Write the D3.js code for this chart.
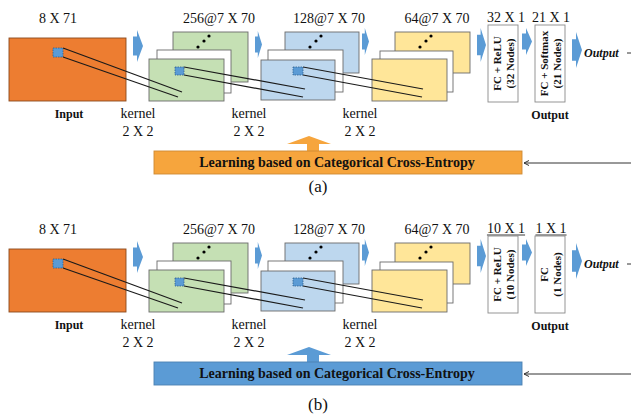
<!DOCTYPE html>
<html lang="en">
<head>
  <meta charset="UTF-8">
  <title>CNN architecture</title>
  <script src="https://d3js.org/d3.v7.min.js"></script>
  <style>
    body { margin: 0; background: #fff; }
    svg text { font-family: "Liberation Serif", "Times New Roman", serif; fill: #111; }
  </style>
</head>
<body>
  <svg id="chart" width="631" height="415"></svg>

  <script>
    // labels
    const sizeLabels = ["8 X 71", "256@7 X 70", "128@7 X 70", "64@7 X 70"];
    const fcSizesA = ["32 X 1", "21 X 1"];
    const fcSizesB = ["10 X 1", "1 X 1"];
    const fcTextA = [["FC + ReLU", "(32 Nodes)"], ["FC + Softmax", "(21 Nodes)"]];
    const fcTextB = [["FC + ReLU", "(10 Nodes)"], ["FC", "(1 Nodes)"]];
    const kernelText = ["kernel", "2 X 2"];
    const lossText = "Learning based on Categorical Cross-Entropy";
    const panelNames = ["(a)", "(b)"];

    // layout
    const sizeX = [58, 219, 329, 437];
    const fcSizeX = [506, 551];
    const kernelX = [138, 249, 360];
    const arrows = [[133, 30, 10, 32], [255, 31, 7, 27], [362, 28, 7, 27], [477, 28, 9, 34], [522, 28, 10, 27], [572, 32, 10, 36]];
    const stacks = [
      {color: "#C5E0B4", back: [173, 32, 75, 50], mid: [157, 50, 74, 43], front: [149, 59, 75, 42]},
      {color: "#BDD7EE", back: [285, 32, 74, 41], mid: [268, 50, 75, 42], front: [261, 60, 74, 40]},
      {color: "#FFE699", back: [395, 32, 75, 41], mid: [380, 51, 73, 41], front: [372, 59, 75, 42]}
    ];
    const kernels = [
      {sq: [53, 48, 10, 9], ends: [[182, 92], [178, 97]]},
      {sq: [175, 67, 9, 8], ends: [[305, 89], [303, 97]]},
      {sq: [293, 67, 10, 8], ends: [[423, 89], [422, 97]]}
    ];
    const fcBoxes = [[488, 25, 30, 77], [535, 25, 30, 77]];

    const svg = d3.select("#chart");

    function rect(g, r, fill, stroke) {
      return g.append("rect")
        .attr("x", r[0]).attr("y", r[1])
        .attr("width", r[2]).attr("height", r[3])
        .attr("fill", fill)
        .attr("stroke", stroke || "#6a6a6a")
        .attr("stroke-width", 0.9);
    }

    function rightArrow(g, a, color) {
      const [x, y, w, h] = a;
      const sx = x + w * 0.4, my = y + h / 2, sh = h * 0.3;
      const pts = [[x, my - sh], [sx, my - sh], [sx, y], [x + w, my], [sx, y + h], [sx, my + sh], [x, my + sh]];
      g.append("path").attr("d", d3.line()(pts) + "Z").attr("fill", color);
    }

    function drawPanel(dy, sizes, fcText, barColor, name, nameY, underline) {
      const g = svg.append("g").attr("transform", `translate(0,${dy})`);

      // size labels
      g.selectAll(".size").data(sizeLabels).join("text")
        .attr("x", (d, i) => sizeX[i]).attr("y", 23)
        .attr("text-anchor", "middle").attr("font-size", 14).text(d => d);
      const fcs = g.selectAll(".fcsize").data(sizes).join("text")
        .attr("x", (d, i) => fcSizeX[i]).attr("y", 22)
        .attr("text-anchor", "middle").attr("font-size", 14).text(d => d);
      if (underline) {
        fcs.each(function() {
          const bb = this.getBBox();
          g.append("line").attr("x1", bb.x).attr("x2", bb.x + bb.width)
            .attr("y1", 24).attr("y2", 24).attr("stroke", "#222").attr("stroke-width", 0.9);
        });
      }

      // input
      rect(g, [9, 38, 117, 63], "#ED7D31", "#8a4a1e");

      stacks.forEach(s => {
        rect(g, s.back, s.color);
        rect(g, s.mid, "#fff");
        rect(g, s.front, s.color);
        [[25, 47], [31, 41], [36, 36]].forEach(p => {
          g.append("circle").attr("cx", s.back[0] + p[0]).attr("cy", p[1]).attr("r", 1.6).attr("fill", "#000");
        });
      });

      arrows.forEach(a => rightArrow(g, a, "#5B9BD5"));

      kernels.forEach(k => {
        const [x, y, w, h] = k.sq;
        g.append("rect").attr("x", x).attr("y", y).attr("width", w).attr("height", h)
          .attr("fill", "#5B9BD5").attr("stroke", "#2F5F8F").attr("stroke-width", 0.8)
          .attr("stroke-dasharray", "1.5,1");
        g.append("line").attr("x1", x + w).attr("y1", y).attr("x2", k.ends[0][0]).attr("y2", k.ends[0][1])
          .attr("stroke", "#1a1a1a").attr("stroke-width", 1.2);
        g.append("line").attr("x1", x + w).attr("y1", y + h).attr("x2", k.ends[1][0]).attr("y2", k.ends[1][1])
          .attr("stroke", "#1a1a1a").attr("stroke-width", 1.2);
      });

      // fully connected boxes
      fcBoxes.forEach((b, i) => {
        rect(g, b, "#fff", "#8a8a8a");
        const cx = b[0] + b[2] / 2, cy = b[1] + b[3] / 2;
        const t = g.append("text").attr("transform", `translate(${cx},${cy}) rotate(-90)`)
          .attr("text-anchor", "middle").attr("font-size", 11).attr("font-weight", "bold");
        t.append("tspan").attr("x", 0).attr("y", -2).text(fcText[i][0]);
        t.append("tspan").attr("x", 0).attr("y", 11).text(fcText[i][1]);
      });

      g.append("text").attr("x", 584).attr("y", 57).attr("font-size", 12)
        .attr("font-weight", "bold").attr("font-style", "italic").text("Output");
      g.append("line").attr("x1", 627).attr("x2", 631).attr("y1", 53).attr("y2", 53)
        .attr("stroke", "#333").attr("stroke-width", 1);

      // bottom labels
      g.append("text").attr("x", 69).attr("y", 118).attr("text-anchor", "middle")
        .attr("font-size", 12).attr("font-weight", "bold").text("Input");
      g.append("text").attr("x", 550).attr("y", 119).attr("text-anchor", "middle")
        .attr("font-size", 12).attr("font-weight", "bold").text("Output");
      kernelX.forEach(x => {
        g.append("text").attr("x", x).attr("y", 118).attr("text-anchor", "middle")
          .attr("font-size", 14).text(kernelText[0]);
        g.append("text").attr("x", x).attr("y", 136).attr("text-anchor", "middle")
          .attr("font-size", 14).text(kernelText[1]);
      });

      // loss bar with up arrow and feedback line
      const up = [[287, 144], [309, 136], [331, 144], [319, 144], [319, 151], [307, 151], [307, 144]];
      g.append("path").attr("d", d3.line()(up) + "Z").attr("fill", barColor);
      rect(g, [154, 151, 368, 23], barColor, d3.color(barColor).darker(0.5));
      g.append("text").attr("x", 337).attr("y", 167).attr("text-anchor", "middle")
        .attr("font-size", 14).attr("font-weight", "bold").text(lossText);
      g.append("line").attr("x1", 631).attr("x2", 524).attr("y1", 163).attr("y2", 163)
        .attr("stroke", "#333").attr("stroke-width", 1);
      g.append("path").attr("d", "M529,160.5L524,163L529,165.5")
        .attr("fill", "none").attr("stroke", "#333").attr("stroke-width", 1);

      g.append("text").attr("x", 318).attr("y", nameY).attr("text-anchor", "middle")
        .attr("font-size", 17).text(name);
    }

    drawPanel(0, fcSizesA, fcTextA, "#F6A53D", panelNames[0], 192, false);
    drawPanel(211, fcSizesB, fcTextB, "#5B9BD5", panelNames[1], 199, true);
  </script>
</body>
</html>
